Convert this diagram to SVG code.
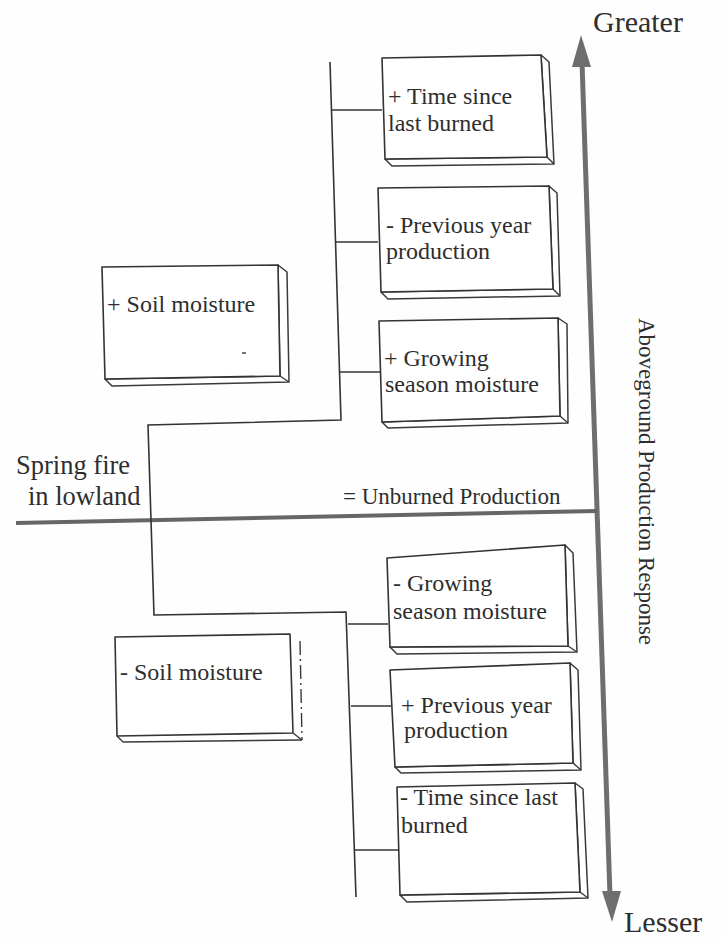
<svg xmlns="http://www.w3.org/2000/svg" width="723" height="939" viewBox="0 0 723 939">
<style>
.bg{fill:#fefefe}
.side{fill:#ffffff;stroke:#3a3a3a;stroke-width:1.5;stroke-linejoin:round}
.front{fill:#ffffff;stroke:#333333;stroke-width:1.6;stroke-linejoin:round}
.edge{fill:none;stroke:#3a3a3a;stroke-width:1.4}
.conn{fill:none;stroke:#333333;stroke-width:1.6;stroke-linejoin:miter}
.axis{fill:none;stroke:#6e6e6e;stroke-width:5}
.head{fill:#6e6e6e}
.base{fill:none;stroke:#666666;stroke-width:4}
.t{font-family:"Liberation Serif","Times New Roman",serif;fill:#2e2e2e;font-size:24px}
.big{font-size:30px}
.mid{font-size:26.5px}
.small{font-size:23px}
</style>
<rect class="bg" x="0" y="0" width="723" height="939"/>

<g id="axis">
  <line class="axis" x1="582" y1="62" x2="610" y2="896"/>
  <polygon class="head" points="581,35 572,67 591,67"/>
  <polygon class="head" points="612,922 602,891 621,891"/>
  <text class="t big" x="593" y="32">Greater</text>
  <text class="t big" x="624" y="932">Lesser</text>
  <text class="t small" transform="translate(639,318) rotate(90)">Aboveground Production Response</text>
</g>

<g id="baseline">
  <line class="base" x1="16" y1="523" x2="597" y2="511"/>
  <text class="t small" x="343" y="504">= Unburned Production</text>
</g>

<g id="spring-fire">
  <text class="t mid" x="16" y="474">Spring fire</text>
  <text class="t mid" x="28" y="505">in lowland</text>
</g>

<g id="connectors">
  <polyline class="conn" points="330,62 341,420 148,425 154,615 346,612 356,897"/>
  <line class="conn" x1="331.5" y1="110" x2="382" y2="110"/>
  <line class="conn" x1="335.5" y1="242" x2="378" y2="242"/>
  <line class="conn" x1="339.5" y1="372" x2="380" y2="372"/>
  <line class="conn" x1="348" y1="624" x2="388" y2="624"/>
  <line class="conn" x1="351" y1="706" x2="391" y2="706"/>
  <line class="conn" x1="354" y1="850" x2="399" y2="850"/>
</g>

<g id="box-time-plus">
  <polygon class="side" points="541,55 549,62 554,164 392,166 385,159 547,157"/>
  <line class="edge" x1="547" y1="157" x2="554" y2="164"/>
  <polygon class="front" points="382,58 541,55 547,157 385,159"/>
  <text class="t" x="388" y="104">+ Time since</text>
  <text class="t" x="388" y="131">last burned</text>
</g>

<g id="box-prev-minus">
  <polygon class="side" points="549,186 557,193 560,296 388,299 381,292 553,289"/>
  <line class="edge" x1="553" y1="289" x2="560" y2="296"/>
  <polygon class="front" points="378,188 549,186 553,289 381,292"/>
  <text class="t" x="386" y="233">- Previous year</text>
  <text class="t" x="386" y="259">production</text>
</g>

<g id="box-grow-plus">
  <polygon class="side" points="558,318 567,324 568,423 388,428 382,422 560,416"/>
  <line class="edge" x1="560" y1="416" x2="568" y2="423"/>
  <polygon class="front" points="379,321 558,318 560,416 382,422"/>
  <text class="t" x="384" y="366">+ Growing</text>
  <text class="t" x="385" y="392">season moisture</text>
</g>

<g id="box-soil-plus">
  <polygon class="side" points="278,265 287,272 289,382 112,386 105,379 280,376"/>
  <line class="edge" x1="280" y1="376" x2="289" y2="382"/>
  <polygon class="front" points="102,267 278,265 280,376 105,379"/>
  <text class="t" x="107" y="312">+ Soil moisture</text>
  <line class="edge" x1="242" y1="353" x2="246" y2="353"/>
</g>

<g id="box-soil-minus">
  <polygon points="290,634 300,641 302,740 123,742 117,736 293,733" fill="#ffffff"/>
  <line class="edge" x1="117" y1="736" x2="123" y2="742"/>
  <line class="edge" x1="123" y1="742" x2="302" y2="740"/>
  <line class="edge" x1="293" y1="733" x2="302" y2="740"/>
  <line class="edge" x1="300" y1="641" x2="302" y2="740" stroke-dasharray="14 4 2 4"/>
  <polygon class="front" points="115,637 290,634 293,733 117,736"/>
  <text class="t" x="120" y="680">- Soil moisture</text>
</g>

<g id="box-grow-minus">
  <polygon class="side" points="565,545 573,553 577,652 397,654 390,647 568,646"/>
  <line class="edge" x1="568" y1="646" x2="577" y2="652"/>
  <polygon class="front" points="387,558 565,545 568,646 390,647"/>
  <text class="t" x="393" y="591">- Growing</text>
  <text class="t" x="393" y="619">season moisture</text>
</g>

<g id="box-prev-plus">
  <polygon class="side" points="570,663 578,670 581,770 401,773 395,767 573,763"/>
  <line class="edge" x1="573" y1="763" x2="581" y2="770"/>
  <polygon class="front" points="390,670 570,663 573,763 395,767"/>
  <text class="t" x="401" y="713">+ Previous year</text>
  <text class="t" x="404" y="738">production</text>
</g>

<g id="box-time-minus">
  <polygon class="side" points="575,783 583,789 588,898 407,902 400,895 580,892"/>
  <line class="edge" x1="580" y1="892" x2="588" y2="898"/>
  <polygon class="front" points="397,787 575,783 580,892 400,895"/>
  <text class="t" x="400" y="805">- Time since last</text>
  <text class="t" x="401" y="833">burned</text>
</g>
</svg>
